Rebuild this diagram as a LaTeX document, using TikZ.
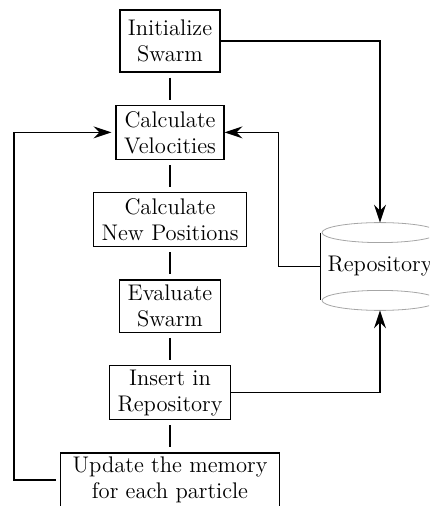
\documentclass[tikz,border=0pt]{standalone}
\usetikzlibrary{arrows.meta, positioning}

\begin{document}
\begin{tikzpicture}[
    x=0.5pt, y=-0.5pt,
    node distance=16pt,
    box/.style={rectangle, draw, line width=0.7pt, align=center,
        inner xsep=4pt, inner ysep=2pt, minimum height=27pt, font=\fontsize{11.3}{13}\selectfont},
    link/.style={line width=0.7pt, shorten <=2.5pt, shorten >=2.5pt},
    arrow/.style={line width=0.7pt,-{Stealth[length=9pt, width=6pt, inset=3pt]}}
]
    \useasboundingbox (0,0) rectangle (429,506);
    \clip (0,0) rectangle (429,506);

    % Main column
    \node[box, minimum height=31pt] (init) at (170,41) {Initialize\\Swarm};
    \node[box, below=of init] (velo) {Calculate\\Velocities};
    \node[box, below=of velo] (newpos) {Calculate\\New Positions};
    \node[box, below=of newpos, minimum height=26pt] (eval) {Evaluate\\Swarm};
    \node[box, below=of eval] (insert) {Insert in\\Repository};
    \node[box, below=of insert, inner xsep=6pt] (update) {Update the memory\\for each particle};

    % Repository store
    \node[minimum width=58pt, minimum height=33.5pt, font=\fontsize{11.3}{13}\selectfont] (repo) at (380,266.5) {Repository};
    \draw[gray!70, thin] (repo.north) ellipse [x radius=58, y radius=10];
    \draw[gray!70, thin] (repo.south) ellipse [x radius=58, y radius=10];
    \draw[line width=0.7pt] (repo.north west) -- (repo.south west);
    \draw[line width=0.7pt] (repo.north east) -- (repo.south east);
    \coordinate (rtop) at ([yshift=5pt]repo.north);
    \coordinate (rbot) at ([yshift=-5pt]repo.south);
    \coordinate (loop) at (14,0);

    % Links
    \draw[link] (init) -- (velo);
    \draw[link] (velo) -- (newpos);
    \draw[link] (newpos) -- (eval);
    \draw[link] (eval) -- (insert);
    \draw[link] (insert) -- (update);

    % Arrows
    \draw[arrow] (init.east) -| (rtop);
    \draw[arrow] (repo.west) -- ++(-42,0) |- (velo.east);
    \draw[arrow] (insert.east) -| (rbot);
    \draw[arrow, shorten <=2pt, shorten >=2pt] (update.west) -- (update.west -| loop) |- (velo.west);
\end{tikzpicture}
\end{document}
